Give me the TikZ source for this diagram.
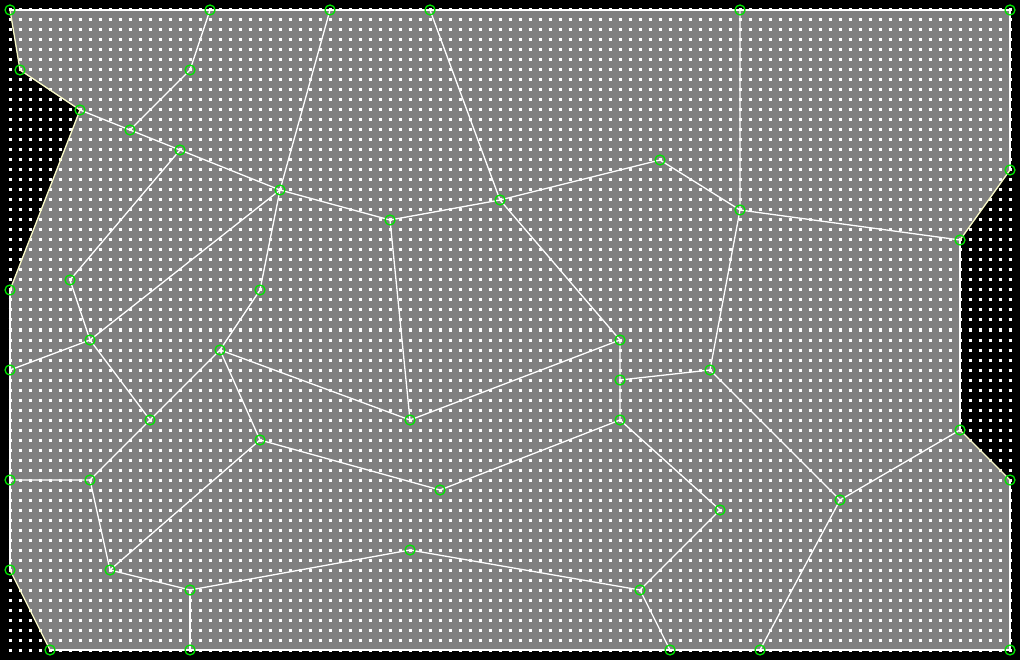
\documentclass[tikz,border=0pt]{standalone}
\usetikzlibrary{calc}
\definecolor{bg}{RGB}{0,0,0}
\definecolor{poly}{RGB}{128,128,128}
\definecolor{cream}{RGB}{250,250,200}
\definecolor{ring}{RGB}{0,230,0}
\tikzset{
  vtx/.style={circle, draw=ring, line width=1.3pt, minimum size=10pt, inner sep=0pt},
  edge/.style={white, line width=1.3pt},
  rim/.style={white, line width=1.3pt},
  slant/.style={cream, line width=1.3pt},
  dotrow/.style={white, line width=3pt, dash pattern=on 3pt off 7pt}
}
\begin{document}
\begin{tikzpicture}[x=1pt,y=-1pt]
\useasboundingbox (0,0) rectangle (1020,660);
\fill[bg] (0,0) rectangle (1020,660);
% coordinates
\coordinate (a) at (10,10);
\coordinate (b) at (210,10);
\coordinate (c) at (330,10);
\coordinate (d) at (430,10);
\coordinate (e) at (740,10);
\coordinate (f) at (1010,10);
\coordinate (g) at (20,70);
\coordinate (h) at (190,70);
\coordinate (i) at (80,110);
\coordinate (j) at (130,130);
\coordinate (k) at (180,150);
\coordinate (l) at (280,190);
\coordinate (m) at (390,220);
\coordinate (n) at (500,200);
\coordinate (o) at (660,160);
\coordinate (p) at (740,210);
\coordinate (q) at (960,240);
\coordinate (r) at (1010,170);
\coordinate (s) at (70,280);
\coordinate (t) at (10,290);
\coordinate (u) at (260,290);
\coordinate (v) at (90,340);
\coordinate (w) at (10,370);
\coordinate (xx) at (220,350);
\coordinate (yy) at (620,340);
\coordinate (z) at (620,380);
\coordinate (aa) at (710,370);
\coordinate (ab) at (150,420);
\coordinate (ac) at (410,420);
\coordinate (ad) at (620,420);
\coordinate (ae) at (260,440);
\coordinate (af) at (960,430);
\coordinate (ag) at (10,480);
\coordinate (ah) at (90,480);
\coordinate (ai) at (440,490);
\coordinate (aj) at (840,500);
\coordinate (ak) at (720,510);
\coordinate (al) at (1010,480);
\coordinate (am) at (410,550);
\coordinate (an) at (10,570);
\coordinate (ao) at (110,570);
\coordinate (ap) at (190,590);
\coordinate (aq) at (640,590);
\coordinate (ar) at (50,650);
\coordinate (as) at (190,650);
\coordinate (bt) at (670,650);
\coordinate (au) at (760,650);
\coordinate (av) at (1010,650);
% region
\fill[poly] (a) -- (f) -- (r) -- (q) -- (af) -- (al) -- (av) -- (ar) -- (an) -- (t) -- (i) -- (g) -- cycle;
% dot grid
\foreach \yy in {10,20,...,650} {
  \draw[dotrow] (8.5,\yy) -- (1011.5,\yy);
}
% rim
\draw[rim] (a) -- (b) -- (c) -- (d) -- (e) -- (f) -- (r);
\draw[rim] (q) -- (af);
\draw[rim] (al) -- (av) -- (au) -- (bt) -- (as) -- (ar);
\draw[rim] (an) -- (ag) -- (w) -- (t);
\draw[slant] (r) -- (q);
\draw[slant] (af) -- (al);
\draw[slant] (ar) -- (an);
\draw[slant] (t) -- (i) -- (g) -- (a);
% inner edges
\draw[edge] (b) -- (h) -- (j);
\draw[edge] (i) -- (j) -- (k) -- (l) -- (m) -- (n) -- (o) -- (p) -- (q);
\draw[edge] (k) -- (s) -- (v) -- (w);
\draw[edge] (c) -- (l) -- (v);
\draw[edge] (l) -- (u) -- (xx);
\draw[edge] (m) -- (ac) -- (yy);
\draw[edge] (d) -- (n) -- (yy) -- (z) -- (ad);
\draw[edge] (e) -- (p) -- (aa) -- (z);
\draw[edge] (v) -- (ab) -- (xx);
\draw[edge] (ab) -- (ah) -- (ag);
\draw[edge] (xx) -- (ac);
\draw[edge] (xx) -- (ae) -- (ai) -- (ad) -- (ak) -- (aq);
\draw[edge] (ae) -- (ao);
\draw[edge] (ah) -- (ao) -- (ap) -- (am) -- (aq) -- (bt);
\draw[edge] (ap) -- (as);
\draw[edge] (aa) -- (aj) -- (af);
\draw[edge] (aj) -- (au);
% vertex rings
\foreach \c in {a,b,c,d,e,f,g,h,i,j,k,l,m,n,o,p,q,r,s,t,u,v,w,xx,yy,z,aa,ab,ac,ad,ae,af,ag,ah,ai,aj,ak,al,am,an,ao,ap,aq,ar,as,bt,au,av} {
  \node[vtx] (ring-\c) at (\c) {};
}
\end{tikzpicture}
\end{document}
